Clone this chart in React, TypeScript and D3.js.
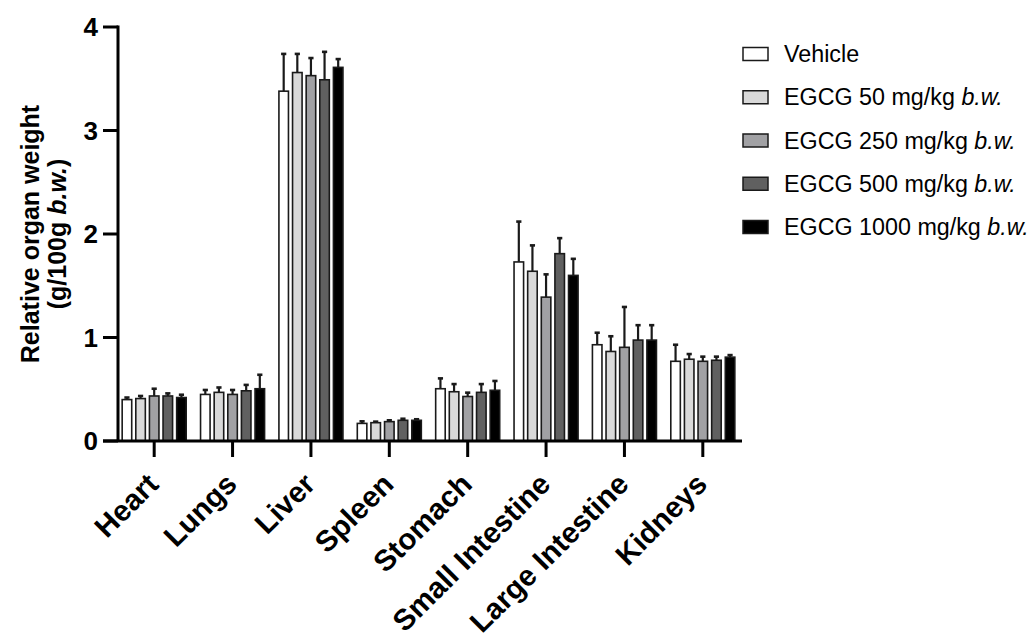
import React from 'react';
import * as d3 from 'd3';

// organs on the x axis, treatment groups as the bars inside each organ
const organs = ['Heart', 'Lungs', 'Liver', 'Spleen', 'Stomach', 'Small Intestine', 'Large Intestine', 'Kidneys'];
const groups = ['Vehicle', 'EGCG 50 mg/kg', 'EGCG 250 mg/kg', 'EGCG 500 mg/kg', 'EGCG 1000 mg/kg'];

// mean relative organ weight (g/100g b.w.)
const vehicleMean = [0.4, 0.45, 3.38, 0.17, 0.505, 1.73, 0.93, 0.77];
const egcg50Mean = [0.41, 0.47, 3.56, 0.177, 0.476, 1.64, 0.865, 0.79];
const egcg250Mean = [0.435, 0.45, 3.53, 0.187, 0.43, 1.39, 0.905, 0.77];
const egcg500Mean = [0.435, 0.485, 3.49, 0.2, 0.47, 1.81, 0.975, 0.78];
const egcg1000Mean = [0.42, 0.505, 3.61, 0.2, 0.49, 1.6, 0.975, 0.81];

// upper error bar (SD)
const vehicleSd = [0.02, 0.043, 0.36, 0.02, 0.1, 0.39, 0.116, 0.16];
const egcg50Sd = [0.025, 0.047, 0.18, 0.01, 0.074, 0.25, 0.147, 0.05];
const egcg250Sd = [0.07, 0.043, 0.17, 0.013, 0.037, 0.22, 0.39, 0.045];
const egcg500Sd = [0.025, 0.057, 0.27, 0.015, 0.08, 0.15, 0.144, 0.035];
const egcg1000Sd = [0.027, 0.135, 0.08, 0.01, 0.09, 0.16, 0.144, 0.02];

const yTicks = [0, 1, 2, 3, 4];

const means = [vehicleMean, egcg50Mean, egcg250Mean, egcg500Mean, egcg1000Mean];
const sds = [vehicleSd, egcg50Sd, egcg250Sd, egcg500Sd, egcg1000Sd];
const fills = ['#ffffff', '#d9d9d9', '#a1a1a4', '#606060', '#000000'];

const FONT = '"Liberation Sans", Arial, sans-serif';

export default function App() {
  const W = 1034;
  const H = 641;

  const x0 = d3.scaleBand<string>().domain(organs).range([115, 742]).paddingInner(0.183).paddingOuter(0.0915);
  const x1 = d3.scaleBand<string>().domain(groups).range([0, x0.bandwidth()]).paddingInner(0.3);
  const y = d3.scaleLinear().domain([0, 4]).range([441, 27]);
  const legendY = d3.scalePoint<string>().domain(groups).range([54, 227]);

  const axisX = 118;
  const ink = '#1a1a1a';

  return (
    <svg
      width={W}
      height={H}
      style={{ position: 'absolute', left: 0, top: 0, background: '#fff', fontFamily: FONT }}
    >
      {/* bars + error bars */}
      {organs.map((o, i) => (
        <g key={o} transform={`translate(${x0(o)},0)`}>
          {groups.map((g, j) => {
            const m = means[j][i];
            const top = m + sds[j][i];
            const bx = x1(g)!;
            const cx = bx + x1.bandwidth() / 2;
            return (
              <g key={g}>
                <line x1={cx} x2={cx} y1={y(m)} y2={y(top)} stroke={ink} strokeWidth={2.2} />
                <line x1={cx - 2.6} x2={cx + 2.6} y1={y(top)} y2={y(top)} stroke={ink} strokeWidth={2.6} />
                <rect
                  x={bx}
                  y={y(m)}
                  width={x1.bandwidth()}
                  height={y(0) - y(m)}
                  fill={fills[j]}
                  stroke={ink}
                  strokeWidth={1.6}
                />
              </g>
            );
          })}
        </g>
      ))}

      {/* y axis */}
      <line x1={axisX} x2={axisX} y1={y(4) - 1.5} y2={y(0)} stroke="#000" strokeWidth={3} />
      {yTicks.map((t) => (
        <g key={t}>
          <line x1={axisX - 15} x2={axisX} y1={y(t)} y2={y(t)} stroke="#000" strokeWidth={3} />
          <text
            x={axisX - 20}
            y={y(t)}
            textAnchor="end"
            dominantBaseline="central"
            fontSize={26}
            fontWeight="bold"
          >
            {t}
          </text>
        </g>
      ))}

      {/* x axis */}
      <line x1={axisX - 15} x2={742} y1={y(0)} y2={y(0)} stroke="#000" strokeWidth={3} />
      {organs.map((o) => {
        const cx = x0(o)! + x0.bandwidth() / 2;
        return (
          <g key={o}>
            <line x1={cx} x2={cx} y1={y(0)} y2={y(0) + 16} stroke="#000" strokeWidth={3} />
            <text
              transform={`translate(${cx + 6},486) rotate(-45)`}
              textAnchor="end"
              fontSize={29.5}
              fontWeight="bold"
            >
              {o}
            </text>
          </g>
        );
      })}

      {/* y title */}
      <text transform="translate(39,234) rotate(-90)" textAnchor="middle" fontSize={25} fontWeight="bold">
        Relative organ weight
      </text>
      <text transform="translate(66,234) rotate(-90)" textAnchor="middle" fontSize={25} fontWeight="bold">
        (g/100g <tspan fontStyle="italic">b.w.</tspan>)
      </text>

      {/* legend */}
      {groups.map((g, j) => {
        const cy = legendY(g)!;
        return (
          <g key={g}>
            <rect x={743} y={cy - 6.5} width={25} height={13} fill={fills[j]} stroke={ink} strokeWidth={1.5} />
            <text x={784} y={cy} dominantBaseline="central" fontSize={23.3}>
              {g}
              {j > 0 ? (
                <>
                  {' '}
                  <tspan fontStyle="italic">b.w.</tspan>
                </>
              ) : null}
            </text>
          </g>
        );
      })}
    </svg>
  );
}
